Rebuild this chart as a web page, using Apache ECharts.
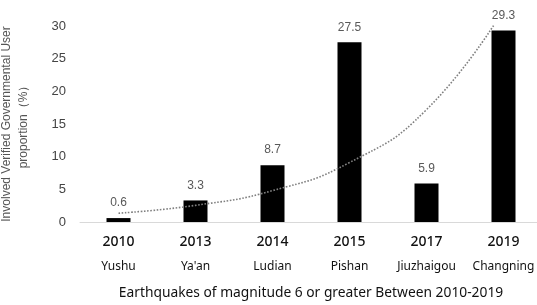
<!DOCTYPE html>
<html>
<head>
<meta charset="utf-8">
<script src="https://cdn.jsdelivr.net/npm/echarts@6/dist/echarts.min.js"></script>
<style>
  html, body { margin: 0; padding: 0; background: #fff; }
  #chart { width: 537px; height: 305px; }
</style>
</head>
<body>
<div id="chart"></div>
<script>
var years = ['2010', '2013', '2014', '2015', '2017', '2019']
var places = ['Yushu', "Ya'an", 'Ludian', 'Pishan', 'Jiuzhaigou', 'Changning']
var proportion = [0.6, 3.3, 8.7, 27.5, 5.9, 29.3]
// dotted trend curve (runs past the top, clipped at 30)
var trend = [1.35, 2.55, 4.8, 9.1, 17.2, 32.5]
var yTicks = [0, 5, 10, 15, 20, 25, 30]

var chart = echarts.init(document.getElementById('chart'))
chart.setOption({
  animation: false,
  textStyle: { fontFamily: 'Liberation Sans, Arial, sans-serif' },
  grid: { left: 80, top: 26, width: 462, bottom: 83, outerBoundsMode: 'none', containLabel: false },
  xAxis: {
    type: 'category',
    data: years.map(function (y, i) { return y + '\n' + places[i] }),
    axisLine: { lineStyle: { color: '#d9d9d9', width: 1 } },
    axisTick: { show: false },
    axisLabel: {
      interval: 0,
      margin: 8,
      hideOverlap: false,
      formatter: function (v) {
        var p = v.split('\n')
        return '{y|' + p[0] + '}\n{c|' + p[1] + '}'
      },
      rich: {
        y: { fontSize: 14, color: '#111', lineHeight: 24, fontFamily: 'Noto Sans', fontWeight: 500 },
        c: { fontSize: 12, color: '#111', lineHeight: 26, fontFamily: 'Noto Sans' }
      }
    },
    name: 'Earthquakes of magnitude 6 or greater Between 2010-2019',
    nameLocation: 'middle',
    nameGap: 64,
    nameTextStyle: { fontSize: 13.8, color: '#111', fontFamily: 'Noto Sans' }
  },
  yAxis: {
    type: 'value',
    min: 0,
    max: 30,
    interval: 5,
    axisLine: { show: false },
    axisTick: { show: false },
    splitLine: { show: false },
    axisLabel: {
      fontSize: 13,
      color: '#444',
      margin: 14,
      formatter: function (v) { return yTicks.indexOf(v) >= 0 ? String(v) : '' }
    },
    name: 'Involved Verified Governmental User\nproportion（%）',
    nameLocation: 'middle',
    nameRotate: 90,
    nameGap: 48,
    nameTextStyle: { fontSize: 12, color: '#555', lineHeight: 17 }
  },
  series: [
    {
      type: 'bar',
      data: proportion,
      barWidth: 24,
      itemStyle: { color: '#000' },
      label: {
        show: true,
        position: 'top',
        distance: 9,
        fontSize: 12,
        color: '#595959'
      },
      z: 2
    },
    {
      type: 'line',
      data: trend,
      smooth: true,
      symbol: 'none',
      clip: true,
      lineStyle: { color: '#808080', width: 1.6, type: 'dotted' },
      z: 3
    }
  ]
})
</script>
</body>
</html>
